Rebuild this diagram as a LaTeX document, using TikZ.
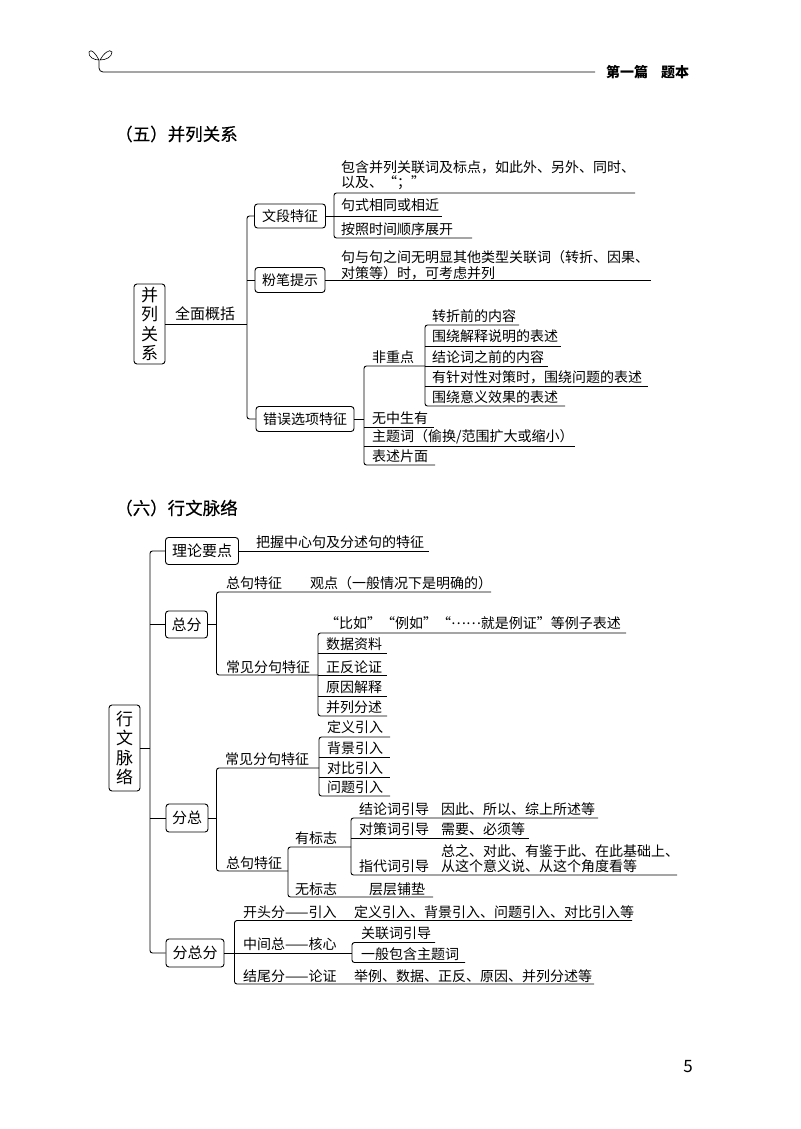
\documentclass[tikz,border=0pt]{standalone}
\usepackage{fontspec}
\setmainfont{Noto Sans CJK SC}
\usetikzlibrary{calc}
\tikzset{
	branch/.style={line width=0.9pt, rounded corners=2.5pt},
	txt/.style={anchor=west, inner sep=0pt, font=\fontsize{14}{14}\selectfont},
	boxed/.style={draw, line width=0.9pt, rounded corners=3pt, inner sep=0pt, font=\fontsize{15}{15}\selectfont},
	rootbox/.style={boxed, align=center, font=\fontsize{17}{19.5}\selectfont, minimum width=31pt},
	heading/.style={anchor=west, inner sep=0pt, font=\fontsize{17.5}{17.5}\selectfont\addfontfeature{FakeBold=0.4}}
}
\begin{document}
\begin{tikzpicture}[x=1pt, y=-1pt]
	\useasboundingbox (0,0) rectangle (800,1129);

	% page head
	\draw[line width=0.6pt] (99,60) .. controls (96,54) and (91,48) .. (89,52) .. controls (88,57) and (94,60) .. (99,60);
	\draw[line width=0.6pt] (100,60) .. controls (103,54) and (110,48) .. (112,52) .. controls (112,57) and (106,60) .. (100,60);
	\coordinate (headL) at (99,60);
	\coordinate (headR) at (595,72);
	\draw[line width=0.8pt, rounded corners=4pt] (headL) |- (headR);
	\node[txt, font=\fontsize{14}{14}\selectfont\bfseries] (part) at (606,72) {第一篇};
	\node[txt, font=\fontsize{14}{14}\selectfont\bfseries] (book) at (661,72) {题本};
	\node[heading] (five) at (115,134) {（五）并列关系};
	\node[heading] (six) at (115,508) {（六）行文脉络};
	\node[anchor=center, inner sep=0pt, font=\fontsize{17}{17}\selectfont] (pagenum) at (688,1067) {5};

	% first tree
	\node[rootbox, minimum height=80pt] (bl) at (149.5,324) {并\\列\\关\\系};
	\coordinate (trunkA) at (247,324);
	\node[boxed, minimum width=71pt, minimum height=24pt, font=\fontsize{14}{14}\selectfont] (wdtz) at (290,216) {文段特征};
	\node[boxed, minimum width=70pt, minimum height=25pt, font=\fontsize{14}{14}\selectfont] (fbts) at (290,280) {粉笔提示};
	\node[boxed, minimum width=98pt, minimum height=25pt, font=\fontsize{14}{14}\selectfont] (cwxx) at (305,419) {错误选项特征};
	\node[txt, font=\fontsize{15}{15}\selectfont] (qmgk) at (175,314) {全面概括};
	\draw[branch] (bl.east |- trunkA) -- (trunkA);
	\draw[branch] (wdtz.west) -| (trunkA) |- (cwxx.west);
	\draw[branch] (fbts.west) -- (fbts.west -| trunkA);

	\coordinate (wdT) at (635,193);
	\coordinate (wdM) at (442,216);
	\coordinate (wdB) at (472,238);
	\coordinate (wdX) at (334,216);
	\draw[branch] (wdT) -| (wdX) |- (wdB);
	\draw[branch] (wdtz.east) -- (wdM);
	\node[txt] (bh1) at (341,167) {包含并列关联词及标点，如此外、另外、同时、};
	\node[txt] (bh2) at (341,183) {以及、“；”};
	\node[txt] (jsxt) at (341,205) {句式相同或相近};
	\node[txt] (azsj) at (341,229) {按照时间顺序展开};

	\coordinate (fbR) at (651,280);
	\draw[branch] (fbts.east) -- (fbR);
	\node[txt] (jyj1) at (341,257) {句与句之间无明显其他类型关联词（转折、因果、};
	\node[txt] (jyj2) at (341,273) {对策等）时，可考虑并列};

	\coordinate (cwX) at (364,419);
	\coordinate (fzT) at (425,366);
	\coordinate (cwB) at (435,465);
	\draw[branch] (fzT) -| (cwX) |- (cwB);
	\draw[branch] (cwxx.east) -- (cwX);
	\coordinate (wzR) at (434,427);
	\coordinate (ztR) at (575,446);
	\draw[branch] (cwX |- wzR) -- (wzR);
	\draw[branch] (cwX |- ztR) -- (ztR);
	\node[txt] (fzd) at (372,357) {非重点};
	\node[txt] (wzsy) at (372,418) {无中生有};
	\node[txt] (ztc) at (372,437) {主题词（偷换/范围扩大或缩小）};
	\node[txt] (bspm) at (372,456) {表述片面};

	\coordinate (fzX) at (425,366);
	\coordinate (fa) at (519,325);
	\coordinate (fb) at (561,346);
	\coordinate (fc) at (548,366);
	\coordinate (fd) at (648,386);
	\coordinate (fe) at (565,406);
	\draw[branch] (fa) -| (fzX) |- (fe);
	\draw[branch] (fzX |- fb) -- (fb);
	\draw[branch] (fzX |- fc) -- (fc);
	\draw[branch] (fzX |- fd) -- (fd);
	\node[txt] (ta) at (432,316) {转折前的内容};
	\node[txt] (tb) at (432,336) {围绕解释说明的表述};
	\node[txt] (tc) at (432,357) {结论词之前的内容};
	\node[txt] (td) at (432,377) {有针对性对策时，围绕问题的表述};
	\node[txt] (te) at (432,397) {围绕意义效果的表述};

	% second tree
	\node[rootbox, minimum height=86pt] (xw) at (124.5,748) {行\\文\\脉\\络};
	\coordinate (trunkB) at (150,748);
	\node[boxed, minimum width=73pt, minimum height=27pt] (llyd) at (202,551) {理论要点};
	\node[boxed, minimum width=42pt, minimum height=27pt] (zf) at (186.5,624.5) {总分};
	\node[boxed, minimum width=42pt, minimum height=28pt] (fz) at (187,818) {分总};
	\node[boxed, minimum width=58pt, minimum height=28pt] (fzf) at (195,953) {分总分};
	\draw[branch] (xw.east) -- (trunkB);
	\draw[branch] (llyd.west) -| (trunkB) |- (fzf.west);
	\draw[branch] (zf.west) -- (zf.west -| trunkB);
	\draw[branch] (fz.west) -- (fz.west -| trunkB);

	\coordinate (llR) at (429,551);
	\draw[branch] (llyd.east) -- (llR);
	\node[txt] (bw) at (256,542) {把握中心句及分述句的特征};

	% zongfen
	\coordinate (zfX) at (216.5,624.5);
	\coordinate (zfT) at (491,592);
	\coordinate (zfB) at (318,675);
	\draw[branch] (zfT) -| (zfX) |- (zfB);
	\draw[branch] (zf.east) -- (zfX);
	\node[txt] (zjtz) at (226,583) {总句特征};
	\node[txt] (gd) at (310,583) {观点（一般情况下是明确的）};
	\node[txt] (cjfj) at (226,667) {常见分句特征};

	\coordinate (lzX) at (318,675);
	\coordinate (la) at (626,633);
	\coordinate (lb) at (387,653);
	\coordinate (lc) at (387,675);
	\coordinate (ld) at (387,696);
	\coordinate (le) at (387,716);
	\draw[branch] (la) -| (lzX) |- (le);
	\draw[branch] (lzX |- lb) -- (lb);
	\draw[branch] (lzX |- lc) -- (lc);
	\draw[branch] (lzX |- ld) -- (ld);
	\node[txt] (ra) at (325,623) {“比如”“例如”“\raisebox{0.3em}{……}就是例证”等例子表述};
	\node[txt] (rb) at (326,644) {数据资料};
	\node[txt] (rc) at (326,667) {正反论证};
	\node[txt] (rd) at (326,687) {原因解释};
	\node[txt] (re) at (326,707) {并列分述};

	% fenzong
	\coordinate (fzY) at (216.5,818);
	\coordinate (fzT2) at (319,768);
	\coordinate (fzB2) at (288,871);
	\draw[branch] (fzT2) -| (fzY) |- (fzB2);
	\draw[branch] (fz.east) -- (fzY);
	\node[txt] (cjfj2) at (225,759) {常见分句特征};
	\node[txt] (zjtz2) at (226,863) {总句特征};

	\coordinate (yrX) at (319,768);
	\coordinate (ya) at (390,737);
	\coordinate (yb) at (390,757);
	\coordinate (yc) at (390,777);
	\coordinate (yd) at (390,796);
	\draw[branch] (ya) -| (yrX) |- (yd);
	\draw[branch] (yrX |- yb) -- (yb);
	\draw[branch] (yrX |- yc) -- (yc);
	\node[txt] (sa) at (327,727) {定义引入};
	\node[txt] (sb) at (327,748) {背景引入};
	\node[txt] (sc) at (327,768) {对比引入};
	\node[txt] (sd) at (327,787) {问题引入};

	\coordinate (bzX) at (288,871);
	\coordinate (bzT) at (351,847);
	\coordinate (bzB) at (433,897);
	\draw[branch] (bzT) -| (bzX) |- (bzB);
	\node[txt] (ybz) at (295,838) {有标志};
	\node[txt] (wbz) at (295,889) {无标志};
	\node[txt] (ccpd) at (369,889) {层层铺垫};

	\coordinate (ybX) at (351,847);
	\coordinate (ua) at (598,818);
	\coordinate (ub) at (529,838);
	\coordinate (uc) at (677,875);
	\draw[branch] (ua) -| (ybX) |- (uc);
	\draw[branch] (ybX |- ub) -- (ub);
	\node[txt] (jlc) at (359,809) {结论词引导};
	\node[txt] (yc1) at (441,809) {因此、所以、综上所述等};
	\node[txt] (dcc) at (359,829) {对策词引导};
	\node[txt] (xy) at (441,829) {需要、必须等};
	\node[txt] (dd1) at (441,851) {总之、对此、有鉴于此、在此基础上、};
	\node[txt] (zdc) at (359,866) {指代词引导};
	\node[txt] (dd2) at (441,866) {从这个意义说、从这个角度看等};

	% fenzongfen
	\coordinate (zzX) at (234.5,953);
	\coordinate (zzT) at (632,920.5);
	\coordinate (zzB) at (594,984);
	\coordinate (hxX) at (352,953);
	\draw[branch] (zzT) -| (zzX) |- (zzB);
	\draw[branch] (fzf.east) -- (hxX);
	\node[txt] (ktf) at (243,912) {开头分——引入};
	\node[txt] (dy) at (354,912) {定义引入、背景引入、问题引入、对比引入等};
	\node[txt] (zjz) at (243,944) {中间总——核心};
	\node[txt] (jwf) at (243,976) {结尾分——论证};
	\node[txt] (jl) at (354,976) {举例、数据、正反、原因、并列分述等};

	\coordinate (ga) at (435,942.5);
	\coordinate (gb) at (465,962.5);
	\draw[branch] (ga) -| (hxX) |- (gb);
	\node[txt] (glc) at (361,933) {关联词引导};
	\node[txt] (ybbh) at (361,954) {一般包含主题词};
\end{tikzpicture}
\end{document}
